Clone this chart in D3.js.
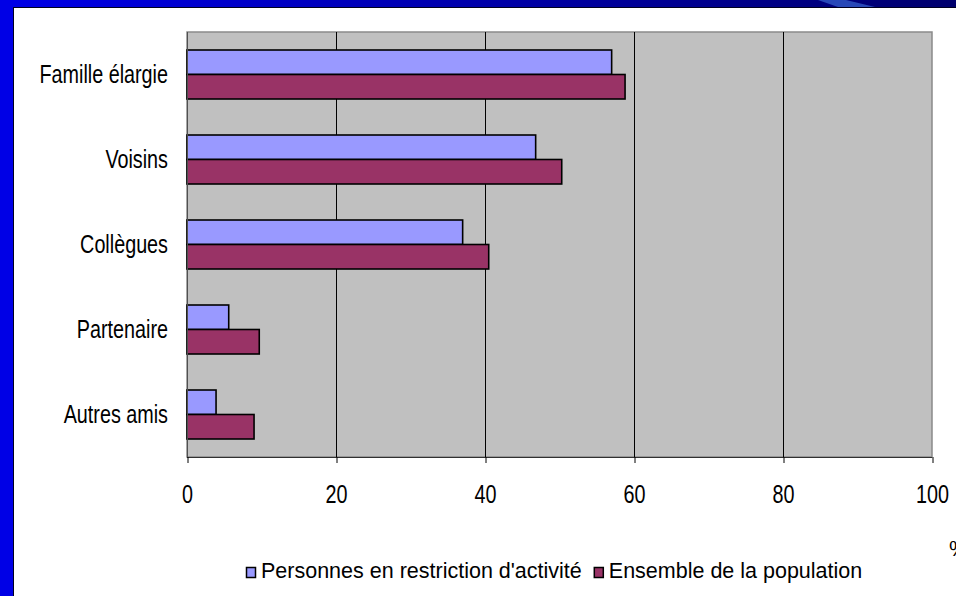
<!DOCTYPE html>
<html>
<head>
<meta charset="utf-8">
<script src="https://cdn.jsdelivr.net/npm/d3@7"></script>
<style>
  body { margin: 0; background: #fff; }
  svg { display: block; }
  text { font-family: Arial, "Liberation Sans", sans-serif; fill: #000; }
</style>
</head>
<body>
<div id="chart"></div>
<script>
// data
const categories = ["Famille élargie", "Voisins", "Collègues", "Partenaire", "Autres amis"];
const seriesNames = ["Personnes en restriction d'activité", "Ensemble de la population"];
const restriction = [57, 46.8, 37, 5.6, 3.9];
const ensemble = [58.8, 50.3, 40.5, 9.7, 9];
const xTicks = [0, 20, 40, 60, 80, 100];

const colors = ["#9999ff", "#993366"];

const W = 956, H = 596;
const plot = {left: 187, right: 932, top: 32, bottom: 457};

const svg = d3.select("#chart").append("svg")
  .attr("width", W)
  .attr("height", H);

// slide frame
const defs = svg.append("defs");
const grad = defs.append("linearGradient").attr("id", "band");
grad.append("stop").attr("offset", "0%").attr("stop-color", "#0000e8");
grad.append("stop").attr("offset", "100%").attr("stop-color", "#00006e");

svg.append("rect").attr("x", 0).attr("y", 0).attr("width", W).attr("height", 7).attr("fill", "url(#band)");
svg.append("polygon")
  .attr("points", "818,0 846,0 875,7 838,7")
  .attr("fill", "#2848b8");
svg.append("rect").attr("x", 0).attr("y", 0).attr("width", 13).attr("height", H).attr("fill", "#0000e6");
svg.append("line").attr("x1", 13.5).attr("x2", 13.5).attr("y1", 7).attr("y2", H).attr("stroke", "#000020");
svg.append("line").attr("x1", 13).attr("x2", W).attr("y1", 7.5).attr("y2", 7.5).attr("stroke", "#000020");

// scales
const x = d3.scaleLinear().domain([0, 100]).range([plot.left, plot.right]);
const y = d3.scaleBand().domain(categories).range([plot.top, plot.bottom]).padding(0);
const ySub = d3.scaleBand().domain(seriesNames).range([0, y.bandwidth()])
  .paddingInner(0).paddingOuter(0.735);

// plot area
svg.append("rect")
  .attr("x", plot.left).attr("y", plot.top)
  .attr("width", plot.right - plot.left).attr("height", plot.bottom - plot.top)
  .attr("fill", "#c0c0c0")
  .attr("stroke", "#8a8a8a")
  .attr("stroke-width", 1.5);

// gridlines
svg.append("g")
  .selectAll("line")
  .data(xTicks.slice(1, -1))
  .join("line")
  .attr("x1", d => Math.round(x(d)) + 0.5)
  .attr("x2", d => Math.round(x(d)) + 0.5)
  .attr("y1", plot.top)
  .attr("y2", plot.bottom)
  .attr("stroke", "#000")
  .attr("stroke-width", 1);

// bars
const rows = categories.map((c, i) => ({cat: c, vals: [restriction[i], ensemble[i]]}));
const groups = svg.append("g")
  .selectAll("g")
  .data(rows)
  .join("g")
  .attr("transform", d => "translate(0," + y(d.cat) + ")");

groups.selectAll("rect")
  .data(d => d.vals.map((v, j) => ({name: seriesNames[j], v: v, j: j})))
  .join("rect")
  .attr("x", x(0))
  .attr("y", d => ySub(d.name))
  .attr("width", d => x(d.v) - x(0))
  .attr("height", ySub.bandwidth())
  .attr("fill", d => colors[d.j])
  .attr("stroke", "#000")
  .attr("stroke-width", 1.6);

// axes lines
svg.append("line")
  .attr("x1", plot.left).attr("x2", plot.right)
  .attr("y1", plot.bottom + 0.5).attr("y2", plot.bottom + 0.5)
  .attr("stroke", "#303030");
svg.append("line")
  .attr("x1", plot.left + 0.5).attr("x2", plot.left + 0.5)
  .attr("y1", plot.top).attr("y2", plot.bottom)
  .attr("stroke", "#505050");

// x axis
const xAxis = svg.append("g")
  .attr("transform", "translate(0," + plot.bottom + ")")
  .call(d3.axisBottom(x).tickValues(xTicks).tickSize(6).tickPadding(0).tickFormat(d3.format("d")));
xAxis.select(".domain").remove();
xAxis.selectAll(".tick line").attr("stroke", "#000").attr("transform", "translate(0.5,0)");
xAxis.selectAll(".tick text")
  .attr("y", 0)
  .attr("dy", null)
  .attr("transform", "translate(0,46) scale(0.86,1.1)")
  .style("font-size", "23px")
  .style("font-family", "Arial, 'Liberation Sans', sans-serif")
  .attr("fill", "#000");

// category labels
svg.append("g")
  .selectAll("text")
  .data(categories)
  .join("text")
  .attr("text-anchor", "end")
  .attr("transform", d => "translate(168," + (y(d) + y.bandwidth() / 2 + 8.5) + ") scale(0.86,1.1)")
  .style("font-size", "23px")
  .text(d => d);

// unit
svg.append("text")
  .attr("x", 949)
  .attr("y", 556)
  .style("font-size", "22px")
  .text("%");

// legend
const legend = svg.append("g");
let lx = 246;
seriesNames.forEach((name, i) => {
  legend.append("rect")
    .attr("x", lx + 0.5).attr("y", 567.5)
    .attr("width", 9).attr("height", 10)
    .attr("fill", colors[i])
    .attr("stroke", "#000")
    .attr("stroke-width", 1.5);
  const t = legend.append("text")
    .attr("x", lx + 15)
    .attr("y", 578)
    .style("font-size", "21.5px")
    .text(name);
  lx = lx + 15 + t.node().getComputedTextLength() + 12;
});
</script>
</body>
</html>
